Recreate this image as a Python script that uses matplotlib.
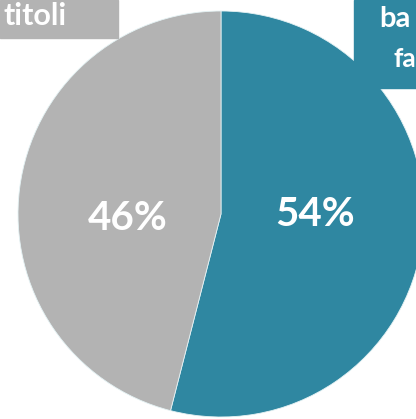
import matplotlib.pyplot as plt
from matplotlib.patches import Rectangle

# --- Data ---
shares = [54, 46]                      # teal first, clockwise from top
slice_colors = ['#2f87a1', '#b3b3b3']
label_left = 'titoli'
label_right = ['ba', 'fa']             # cropped in the original

plt.rcParams['font.family'] = ['Lato', 'DejaVu Sans']

W, H = 416, 419
fig = plt.figure(figsize=(W / 100, H / 100), dpi=100)
ax = fig.add_axes([0, 0, 1, 1])

cx, cy, r = 221, H - 214, 203
ax.pie(shares, colors=slice_colors, startangle=90, counterclock=False,
       center=(cx, cy), radius=r, frame=True,
       wedgeprops=dict(edgecolor='#e4f2f4', linewidth=0.6))
ax.set_xlim(0, W)
ax.set_ylim(0, H)
ax.axis('off')

# percentage labels
ax.text(128, H - 219, f'{shares[1]}%', color='white', fontsize=29,
        fontweight='bold', ha='center', va='center')
ax.text(315, H - 214, f'{shares[0]}%', color='white', fontsize=29,
        fontweight='bold', ha='center', va='center')

# category boxes at the top corners
ax.add_patch(Rectangle((0, H - 38), 118, 38, color='#b3b3b3', zorder=3))
ax.text(3, H - 16, label_left, color='white', fontsize=22, fontweight='bold',
        ha='left', va='center', zorder=4)

ax.add_patch(Rectangle((354, H - 88), 70, 88, color='#2f87a1', zorder=3))
ax.text(379, H - 19, label_right[0], color='white', fontsize=21,
        fontweight='bold', ha='left', va='center', zorder=4)
ax.text(393, H - 59, label_right[1], color='white', fontsize=19,
        fontweight='bold', ha='left', va='center', zorder=4)

fig.savefig('out.png', dpi=100)
